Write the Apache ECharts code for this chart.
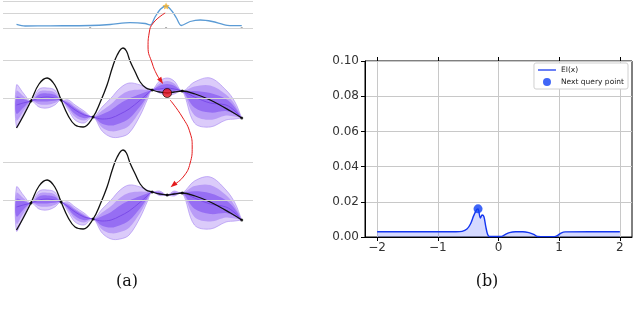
<!DOCTYPE html>
<html>
<head>
<meta charset="utf-8">
<script src="https://cdn.jsdelivr.net/npm/echarts@6/dist/echarts.min.js"></script>
<style>
  html, body { margin: 0; background: #fff; }
  #chart { width: 640px; height: 323px; }
</style>
</head>
<body>
<div id="chart"></div>
<script>
// ---- (a) illustration: x runs 0..1 across the sketch, y is height in panel units ----
// acquisition curve (top strip)
const acqU = [0, 0.038, 0.149, 0.327, 0.416, 0.504, 0.571, 0.595, 0.615, 0.64, 0.664, 0.69, 0.71, 0.731, 0.771, 0.816, 0.869, 0.936, 1.0];
const acqV = [5.7, 4, 4.2, 4.5, 5.5, 7.3, 6.5, 5, 13, 21, 24, 19, 12, 4.5, 8.5, 10, 8.5, 4.7, 4.3];
const acqMax = [0.664, 24];
const acqTicks = [0.327, 0.664, 1.0];

// objective function (same in both GP panels)
const objU = [0, 0.03, 0.064, 0.10, 0.136, 0.17, 0.198, 0.23, 0.26, 0.296, 0.34, 0.372, 0.402, 0.425, 0.447, 0.473, 0.488, 0.504, 0.527, 0.549, 0.575, 0.602, 0.635, 0.669, 0.70, 0.736, 0.793, 0.86, 0.95, 1.0];
const objV = [7, 19, 34, 51, 57, 50, 35, 19, 10, 8, 18, 33, 50, 67, 80, 87, 84, 74, 63, 53, 47, 45, 43, 42, 43, 44, 41, 35, 24, 17];

// GP posterior before / after the new query
const bandU  = [0, 0.03, 0.064, 0.10, 0.136, 0.17, 0.198, 0.23, 0.26, 0.30, 0.34, 0.38, 0.42, 0.46, 0.50, 0.55, 0.58, 0.602, 0.635, 0.669, 0.70, 0.736, 0.79, 0.86, 0.93, 0.97, 1.0];
const meanMid = [30, 32, 34, 37, 38, 37, 35, 30, 25, 20, 18, 16, 17, 21, 26, 35, 41, 45, 46, 47, 46, 44, 38, 32, 30, 24, 17];
const upMid   = [50, 42, 34, 46, 47, 45, 35, 35, 30, 24, 18, 28, 37, 47, 52, 50, 47, 45, 54, 57, 54, 44, 53, 57, 45, 33, 17];
const loMid   = [8, 20, 34, 28, 27, 30, 35, 25, 15, 12, 18, 4, -2, -2, 2, 20, 35, 45, 42, 40, 41, 44, 12, 8, 15, 16, 17];
const meanBot = [30, 32, 34, 37, 38, 37, 35, 30, 25, 20, 18, 16, 17, 21, 26, 35, 41, 45, 43.5, 42, 43, 44, 39, 33, 30, 24, 17];
const upBot   = [50, 42, 34, 46, 47, 45, 35, 35, 30, 24, 18, 28, 37, 47, 52, 50, 47, 45, 46, 42, 46, 44, 56, 60, 47, 34, 17];
const loBot   = [6, 20, 34, 28, 27, 30, 35, 25, 15, 12, 18, 4, -2, -2, 2, 20, 35, 45, 41.5, 42, 41, 44, 12, 8, 15, 16, 17];

const obsU = [0.064, 0.198, 0.34, 0.602, 0.736, 1.0];
const obsV = [34, 35, 18, 45, 44, 17];
const queryPt = [0.669, 42];

// red arrows, in middle-panel units
const arrow1U = [0.66, 0.607, 0.589, 0.584, 0.602, 0.624, 0.642];
const arrow1V = [122, 112, 102, 88, 72, 60, 54];
const arrow2U = [0.682, 0.736, 0.771, 0.78, 0.771, 0.74, 0.696];
const arrow2V = [35, 18, 2, -12, -28, -42, -50];

// ---- (b) expected improvement ----
const eiX = [-2, -1.5, -1, -0.7, -0.6, -0.52, -0.46, -0.41, -0.36, -0.337, -0.3, -0.27, -0.24, -0.21, -0.18, -0.15, -0.05, 0.05, 0.1, 0.18, 0.28, 0.4, 0.5, 0.58, 0.64, 0.7, 0.8, 0.92, 0.97, 1.03, 1.1, 1.5, 2];
const eiY = [0.003, 0.003, 0.003, 0.003, 0.0032, 0.0045, 0.0075, 0.012, 0.0155, 0.016, 0.0108, 0.0125, 0.0115, 0.006, 0.0015, 0.0003, 0.0003, 0.0003, 0.0012, 0.0025, 0.003, 0.003, 0.0025, 0.0015, 0.0003, 0.0002, 0.0002, 0.0002, 0.0008, 0.0022, 0.0029, 0.003, 0.003];
const nextX = -0.337, nextY = 0.016;
const xTicks = [-2, -1, 0, 1, 2];

const zip = (a, b) => a.map((v, i) => [v, b[i]]);
const grayLines = (vals) => ({
  silent: true, symbol: 'none', label: { show: false },
  lineStyle: { color: '#d4d4d4', width: 1, type: 'solid' },
  data: vals.map(v => ({ yAxis: v }))
});

function band(gi, mean, up, lo, k, fill, stroke) {
  return {
    type: 'custom', xAxisIndex: gi, yAxisIndex: gi, data: [[0, 0]], silent: true, z: 2,
    renderItem: (p, api) => {
      const top = bandU.map((u, i) => api.coord([u, mean[i] + k * (up[i] - mean[i])]));
      const bot = bandU.map((u, i) => api.coord([u, mean[i] + k * (lo[i] - mean[i])])).reverse();
      return {
        type: 'polygon',
        shape: { points: top.concat(bot), smooth: 0.35 },
        style: { fill: fill, stroke: stroke || null, lineWidth: 0.7 }
      };
    }
  };
}

function gpPanel(gi, mean, up, lo, obs) {
  return [
    { type: 'line', xAxisIndex: gi, yAxisIndex: gi, data: [], markLine: grayLines([75, 37]) },
    band(gi, mean, up, lo, 1, 'rgba(175,140,245,0.45)', 'rgba(160,125,240,0.8)'),
    band(gi, mean, up, lo, 0.7, 'rgba(145,100,245,0.45)'),
    band(gi, mean, up, lo, 0.4, 'rgba(115,65,240,0.5)'),
    { type: 'line', xAxisIndex: gi, yAxisIndex: gi, data: zip(bandU, mean), smooth: 0.35, symbol: 'none',
      lineStyle: { color: '#7a4ae8', width: 1 }, z: 3, silent: true },
    { type: 'line', xAxisIndex: gi, yAxisIndex: gi, data: zip(objU, objV), smooth: 0.4, symbol: 'none',
      lineStyle: { color: '#111', width: 1.3 }, z: 4, silent: true },
    { type: 'scatter', xAxisIndex: gi, yAxisIndex: gi, data: obs, symbolSize: 3,
      itemStyle: { color: '#000' }, z: 5, silent: true }
  ];
}

function arrow(us, vs, rot) {
  const data = zip(us, vs).map((p, i) => i === us.length - 1
    ? { value: p, symbol: 'triangle', symbolSize: [5, 7], symbolRotate: rot, itemStyle: { color: '#e41a1c' } }
    : { value: p, symbol: 'none' });
  return { type: 'line', xAxisIndex: 1, yAxisIndex: 1, data: data, smooth: 0.5, clip: false, showSymbol: true,
    lineStyle: { color: '#e41a1c', width: 1 }, z: 8, silent: true };
}

const leftX = { min: -0.06, max: 1.05, show: false };
const chart = echarts.init(document.getElementById('chart'));
chart.setOption({
  animation: false,
  textStyle: { fontFamily: 'DejaVu Sans' },
  grid: [
    { left: 3, width: 250, top: 0, height: 30 },
    { left: 3, width: 250, top: 35, height: 100 },
    { left: 3, width: 250, top: 137, height: 100 },
    { left: 365, right: 8, top: 61, bottom: 86, show: true, borderColor: '#000', borderWidth: 1 }
  ],
  xAxis: [
    Object.assign({ type: 'value', gridIndex: 0 }, leftX),
    Object.assign({ type: 'value', gridIndex: 1 }, leftX),
    Object.assign({ type: 'value', gridIndex: 2 }, leftX),
    { type: 'value', gridIndex: 3, min: -2.2, max: 2.2,
      axisLine: { show: true, onZero: false, lineStyle: { color: '#000' } },
      axisTick: { show: true, inside: false, length: 4, customValues: xTicks, lineStyle: { color: '#000' } },
      axisLabel: { customValues: xTicks, margin: 5, fontSize: 12, color: '#333',
        formatter: v => (v < 0 ? '\u2212' + (-v) : '' + v) },
      splitLine: { show: true, customValues: xTicks, lineStyle: { color: '#c8c8c8', width: 1 } } },
    { type: 'value', gridIndex: 3, position: 'top', min: -2.2, max: 2.2,
      axisLine: { show: false, onZero: false },
      axisTick: { show: true, inside: false, length: 4, customValues: xTicks, lineStyle: { color: '#000' } },
      axisLabel: { show: false }, splitLine: { show: false } }
  ],
  yAxis: [
    { type: 'value', gridIndex: 0, min: 0, max: 30, show: false },
    { type: 'value', gridIndex: 1, min: 0, max: 100, show: false },
    { type: 'value', gridIndex: 2, min: 0, max: 100, show: false },
    { type: 'value', gridIndex: 3, min: 0, max: 0.1, interval: 0.02,
      axisLine: { show: true, onZero: false, lineStyle: { color: '#000' } },
      axisTick: { show: true, inside: false, length: 4, lineStyle: { color: '#000' } },
      axisLabel: { margin: 6, fontSize: 12, color: '#333', formatter: v => v.toFixed(2) },
      splitLine: { show: true, lineStyle: { color: '#c8c8c8', width: 1 } } }
  ],
  legend: {
    data: [
      { name: 'EI(x)', icon: 'path://M0,0 M0,3.3 L20,3.3 L20,4.7 L0,4.7 Z M20,8' },
      { name: 'Next query point', icon: 'circle' }
    ],
    orient: 'vertical', right: 12, top: 63,
    itemWidth: 18, itemHeight: 8, itemGap: 4, padding: [3, 4, 3, 4],
    backgroundColor: '#fff', borderColor: '#d0d0d0', borderWidth: 1, borderRadius: 2,
    textStyle: { fontSize: 7.5, color: '#222' }
  },
  graphic: [
    { type: 'text', x: 127, y: 282, style: { text: '(a)', font: '16px "DejaVu Serif"', fill: '#111', align: 'center', verticalAlign: 'middle' } },
    { type: 'text', x: 487, y: 282, style: { text: '(b)', font: '16px "DejaVu Serif"', fill: '#111', align: 'center', verticalAlign: 'middle' } }
  ],
  series: [
    // top strip: acquisition function
    { type: 'line', xAxisIndex: 0, yAxisIndex: 0, data: zip(acqU, acqV), smooth: 0.3, symbol: 'none',
      lineStyle: { color: '#5b9bd5', width: 1.3 }, silent: true, markLine: grayLines([28.3, 16.7, 2]) },
    { type: 'scatter', xAxisIndex: 0, yAxisIndex: 0, data: acqTicks.map(u => [u, 2]), symbol: 'rect', symbolSize: 2,
      itemStyle: { color: '#999' }, silent: true },
    { type: 'scatter', xAxisIndex: 0, yAxisIndex: 0, data: [acqMax], z: 6, silent: true,
      symbol: 'path://M0,-10 L2.9,-4 9.5,-3.1 4.7,1.5 5.9,8.1 0,5 -5.9,8.1 -4.7,1.5 -9.5,-3.1 -2.9,-4Z',
      symbolSize: 7, itemStyle: { color: '#f0b030' } },
    ...gpPanel(1, meanMid, upMid, loMid, zip(obsU, obsV)),
    { type: 'scatter', xAxisIndex: 1, yAxisIndex: 1, data: [queryPt], symbolSize: 9, z: 9, silent: true,
      itemStyle: { color: '#e8141c', borderColor: '#000', borderWidth: 0.8 } },
    ...gpPanel(2, meanBot, upBot, loBot, zip(obsU.concat([queryPt[0]]), obsV.concat([queryPt[1]]))),
    arrow(arrow1U, arrow1V, 214),
    arrow(arrow2U, arrow2V, 129),
    // (b) expected improvement
    { name: 'EI(x)', type: 'line', xAxisIndex: 3, yAxisIndex: 3, data: zip(eiX, eiY), smooth: 0.3, symbol: 'none',
      lineStyle: { color: '#1436f0', width: 1.4 }, itemStyle: { color: '#1436f0' },
      areaStyle: { color: 'rgba(40,60,255,0.28)' }, z: 4 },
    { name: 'Next query point', type: 'scatter', xAxisIndex: 3, yAxisIndex: 3, data: [[nextX, nextY]],
      symbolSize: 9, itemStyle: { color: '#1040f5' }, z: 5 }
  ]
});
</script>
</body>
</html>
